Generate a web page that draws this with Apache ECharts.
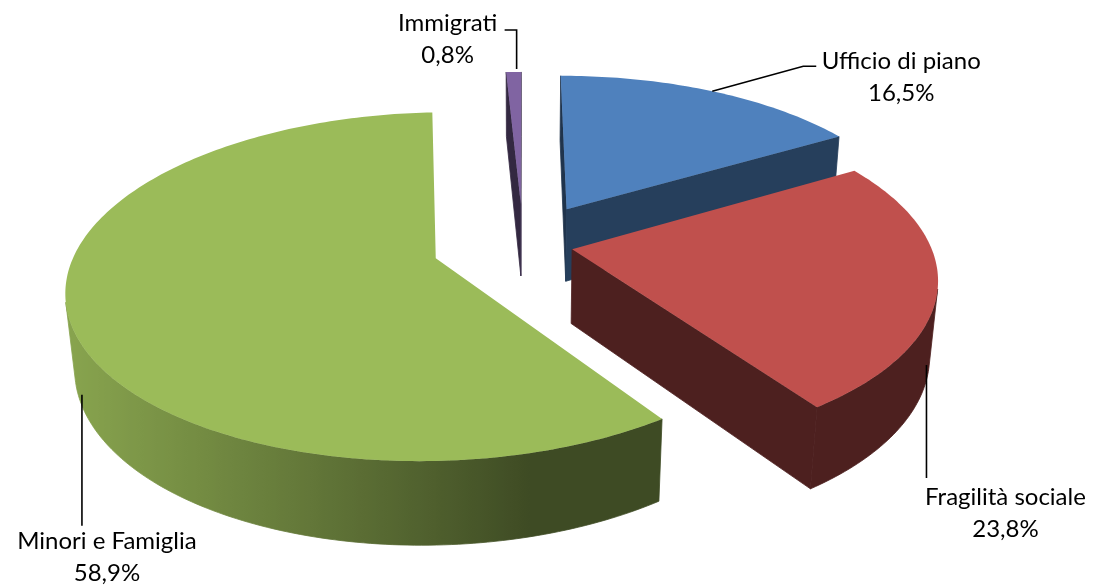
<!DOCTYPE html>
<html>
<head>
<meta charset="utf-8">
<script src="https://cdn.jsdelivr.net/npm/echarts@6/dist/echarts.min.js"></script>
<style>
  html, body { margin: 0; padding: 0; background: #fff; }
  #main { width: 1096px; height: 585px; }
</style>
</head>
<body>
<div id="main"></div>
<script>
// Distribuzione della spesa per area di intervento
const categories = ['Ufficio di piano', 'Fragilità sociale', 'Minori e Famiglia', 'Immigrati'];
const shares = [16.5, 23.8, 58.9, 0.8];
const sliceColors = ['#4f81bd', '#c0504d', '#9bbb59', '#8064a2'];
const explode = [91, 50, 91, 91];

// 3D pie: centre (fraction of canvas), radius, thickness, tilt (deg), camera distance
const PIE = { cx: 0.4772, cy: 0.4178, r: 358, h: 85, tilt: 27.5, dist: 1970 };

// leader line (points relative to the slice anchor) and text centre offset
const LABEL = [
  { anchor: 'top',    leader: [[0, 0], [91, -25], [104, -25]], text: [189, -14] },
  { anchor: 'bottom', leader: [[-3, 3], [-3, 116]],            text: [76, 151] },
  { anchor: 'bottom', leader: [[4, 1], [4, 132]],              text: [29, 163] },
  { anchor: 'top',    leader: [[3, -3], [3, -42], [-9, -42]],  text: [-66, -33] }
];

const DEG = Math.PI / 180;
const total = shares.reduce((a, b) => a + b, 0);
const starts = [];
(function () { let acc = 0; shares.forEach(v => { starts.push(acc / total * 360); acc += v; }); })();

function explodeVec(i) {
  const am = starts[i] + shares[i] / total * 180;
  return [explode[i] * Math.sin(am * DEG), explode[i] * Math.cos(am * DEG)];
}
// draw far slices first
const drawRank = shares.map((_, i) => i)
  .sort((a, b) => explodeVec(b)[1] - explodeVec(a)[1])
  .reduce((m, idx, r) => { m[idx] = r; return m; }, {});

function shadeColor(hex, k) {
  const n = parseInt(hex.slice(1), 16);
  const r = Math.round(((n >> 16) & 255) * k), g = Math.round(((n >> 8) & 255) * k), b = Math.round((n & 255) * k);
  return 'rgb(' + Math.min(255, r) + ',' + Math.min(255, g) + ',' + Math.min(255, b) + ')';
}
// brightness of the curved wall by the direction it faces (light from front-left)
function wallShade(theta) {
  return 0.4 + 0.476 * Math.max(0, Math.cos((theta - 255) * DEG));
}
// brightness of the flat cut faces by the direction their normal points
function sideShade(theta) {
  return 0.4 + 0.1 * Math.max(0, Math.cos((theta - 120) * DEG));
}

function renderSlice(params, api) {
  const i = params.dataIndex;
  const W = api.getWidth(), Hc = api.getHeight();
  const cx = W * PIE.cx, cy = Hc * PIE.cy;
  const s = Math.sin(PIE.tilt * DEG), c = Math.cos(PIE.tilt * DEG);
  const D = PIE.dist, R = PIE.r, H = PIE.h;
  const cam = [0, -D * c, D * s];
  const proj = (u, v, w) => {
    const f = D / (D + v * c - w * s);
    return [cx + u * f, cy - (v * s + w * c) * f];
  };
  const a0 = starts[i];
  const a1 = a0 + api.value(0) / total * 360;
  const [eu, ev] = explodeVec(i);
  const rim3 = (th, w) => [eu + R * Math.sin(th * DEG), ev + R * Math.cos(th * DEG), w];
  const rim = (th, w) => { const q = rim3(th, w); return proj(q[0], q[1], q[2]); };
  const faces = (n, q) => n[0] * (cam[0] - q[0]) + n[1] * (cam[1] - q[1]) + n[2] * (cam[2] - q[2]) > 0;
  const color = sliceColors[i];
  const zb = drawRank[i] * 10;
  const children = [];

  const steps = Math.max(2, Math.ceil((a1 - a0) / 1));
  const thetas = [];
  for (let j = 0; j <= steps; j++) thetas.push(a0 + (a1 - a0) * j / steps);

  const apexTop = proj(eu, ev, 0), apexBot = proj(eu, ev, -H);

  // radial walls: [edge angle, outward normal, normal direction in degrees]
  [[a0, [-Math.cos(a0 * DEG), Math.sin(a0 * DEG), 0], a0 - 90],
   [a1, [Math.cos(a1 * DEG), -Math.sin(a1 * DEG), 0], a1 + 90]]
    .forEach(([a, n, nd]) => {
      const q = [eu + R / 2 * Math.sin(a * DEG), ev + R / 2 * Math.cos(a * DEG), -H / 2];
      if (!faces(n, q)) return;
      const fill = shadeColor(color, sideShade(nd));
      children.push({
        type: 'polygon', z2: zb + 1,
        shape: { points: [apexTop, rim(a, 0), rim(a, -H), apexBot] },
        style: { fill: fill, stroke: fill, lineWidth: 0.8, lineJoin: 'round' }
      });
    });

  // curved outer wall, split into runs that face the viewer
  let run = [];
  const flush = () => {
    if (run.length >= 2) {
      const top = run.map(t => rim(t, 0));
      const bot = run.map(t => rim(t, -H)).reverse();
      const xs = top.map(p => p[0]);
      const xmin = Math.min.apply(null, xs), xmax = Math.max.apply(null, xs);
      let fill;
      if (xmax - xmin < 2) {
        fill = shadeColor(color, wallShade(run[0]));
      } else {
        const stops = run.map((t, k) => ({ offset: (xs[k] - xmin) / (xmax - xmin), color: shadeColor(color, wallShade(t)) }))
          .sort((p, q) => p.offset - q.offset);
        fill = { type: 'linear', x: xmin, y: 0, x2: xmax, y2: 0, global: true, colorStops: stops };
      }
      children.push({
        type: 'polygon', z2: zb + 2,
        shape: { points: top.concat(bot) },
        style: { fill: fill, stroke: fill, lineWidth: 0.8, lineJoin: 'round' }
      });
    }
    run = [];
  };
  for (let j = 0; j < steps; j++) {
    const tm = (thetas[j] + thetas[j + 1]) / 2;
    const n = [Math.sin(tm * DEG), Math.cos(tm * DEG), 0];
    if (faces(n, rim3(tm, -H / 2))) {
      if (run.length === 0) run.push(thetas[j]);
      run.push(thetas[j + 1]);
    } else {
      flush();
    }
  }
  flush();

  // top face
  children.push({
    type: 'polygon', z2: zb + 3,
    shape: { points: [apexTop].concat(thetas.map(t => rim(t, 0))) },
    style: { fill: color }
  });

  // label with leader line
  const lay = LABEL[i];
  const am = (a0 + a1) / 2;
  const anchor = rim(am, lay.anchor === 'top' ? 0 : -H);
  children.push({
    type: 'polyline', z2: 200,
    shape: { points: lay.leader.map(p => [anchor[0] + p[0], anchor[1] + p[1]]) },
    style: { stroke: '#000', lineWidth: 1.6, fill: null }
  });
  const pct = api.value(0).toFixed(1).replace('.', ',') + '%';
  children.push({
    type: 'text', z2: 201,
    style: {
      text: categories[i] + '\n' + pct,
      x: anchor[0] + lay.text[0], y: anchor[1] + lay.text[1],
      fill: '#000', font: '24px Lato', align: 'center', verticalAlign: 'middle', lineHeight: 32
    }
  });

  return { type: 'group', children: children };
}

const chart = echarts.init(document.getElementById('main'), null, { renderer: 'canvas' });
chart.setOption({
  animation: false,
  backgroundColor: '#ffffff',
  series: [{
    type: 'custom',
    coordinateSystem: 'none',
    data: shares.map((v, i) => ({ name: categories[i], value: v })),
    renderItem: renderSlice
  }]
});
</script>
</body>
</html>
